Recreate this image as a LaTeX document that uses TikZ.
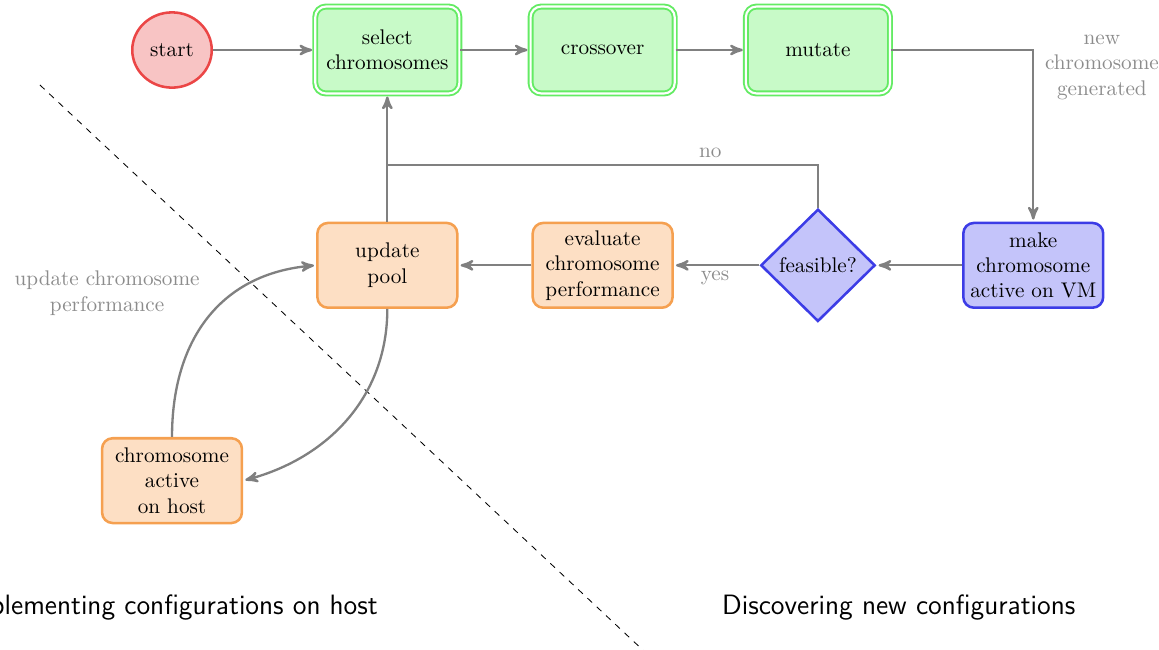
\documentclass[tikz,border=0pt]{standalone}
\usepackage{tikz}
\usetikzlibrary{arrows}
\usetikzlibrary{positioning}
\usetikzlibrary{shapes.geometric}
\definecolor{greenfill}{RGB}{200,250,200}
\definecolor{greenline}{RGB}{100,235,100}
\definecolor{redfill}{RGB}{248,196,196}
\definecolor{redline}{RGB}{235,70,70}
\definecolor{orangefill}{RGB}{253,223,196}
\definecolor{orangeline}{RGB}{245,160,80}
\definecolor{bluefill}{RGB}{196,196,250}
\definecolor{blueline}{RGB}{60,60,230}
\definecolor{linegray}{RGB}{128,128,128}
\definecolor{notegray}{RGB}{140,140,140}
\tikzstyle{every node}+=[inner sep=0pt]
\tikzstyle{startnode} = [ellipse, draw=redline, fill=redfill, very thick, minimum width=37.5pt, minimum height=35.5pt]
\tikzstyle{gablock} = [rectangle, draw=greenline, fill=greenfill, line width=0.9pt, double=white, double distance=1pt, text centered, rounded corners=5pt, minimum width=68pt, minimum height=41pt]
\tikzstyle{hostblock} = [rectangle, draw=orangeline, fill=orangefill, very thick, text centered, rounded corners=5pt, minimum width=66pt, minimum height=40pt]
\tikzstyle{vmblock} = [rectangle, draw=blueline, fill=bluefill, very thick, text centered, rounded corners=5pt, minimum width=66pt, minimum height=40pt]
\tikzstyle{decision} = [diamond, draw=blueline, fill=bluefill, very thick, minimum width=54pt, minimum height=53pt]
\tikzstyle{line} = [draw=linegray, line width=1.1pt, -stealth', shorten >=1pt]
\tikzstyle{note} = [text=notegray]
\tikzstyle{region} = [font=\fontsize{13.2}{16}\selectfont\sffamily]

\begin{document}
\begin{tikzpicture}[node distance = 3.57cm, auto, every text node part/.style={align=center}]
            \useasboundingbox (-2.852,0.829) rectangle (16.365,-9.932);
            % Place nodes
            \node [startnode] (start) {start};
            \node [gablock, right of=start] (select) {select\\chromosomes};
            \node [gablock, right of=select] (cross) {crossover};
            \node [gablock, right of=cross] (mutate) {mutate};
            \node [decision, below of=mutate] (feasible) {feasible?};
            \node [vmblock, right of=feasible] (vm) {make\\chromosome\\active on VM};
            \node [hostblock, left of=feasible] (eval) {evaluate\\chromosome\\performance};
            \node [hostblock, left of=eval] (pool) {update\\pool};
            \node [hostblock, below of=start, node distance=7.14cm] (host) {chromosome\\active\\on host};
            \coordinate [above of=pool, node distance=1.66cm] (join);
            % Split between the two sides
            \coordinate (cut1) at (-2.19,-0.58);
            \coordinate (cut2) at (7.84,-9.98);
            \draw [dashed] (cut1) -- (cut2);
            \node [region, anchor=east] (hostside) at (3.42,-9.24) {Implementing configurations on host};
            \node [region] (vmside) at (12.05,-9.24) {Discovering new configurations};
            % Draw edges
            \path [line] (start) -- (select);
            \path [line] (select) -- (cross);
            \path [line] (cross) -- (mutate);
            \path [line] (mutate) -| node [note, pos=0.55, right=5pt] {new\\chromosome\\generated} (vm);
            \path [line] (vm) -- (feasible);
            \path [line] (feasible) -- node [note, below=2pt, pos=0.52] {yes} (eval);
            \path [line] (eval) -- (pool);
            \path [line] (pool) -- (select);
            \draw [linegray, line width=1.1pt] (feasible) |- node [note, above=3pt, pos=0.625] {no} (join);
            \path [line] (host.north) to [out=90, in=185, looseness=1.1] node [note, pos=0.66, left=16pt] {update chromosome\\performance} (pool.west);
            \path [line] (pool.south) to [out=-90, in=15] (host.east);
          \end{tikzpicture}
\end{document}
